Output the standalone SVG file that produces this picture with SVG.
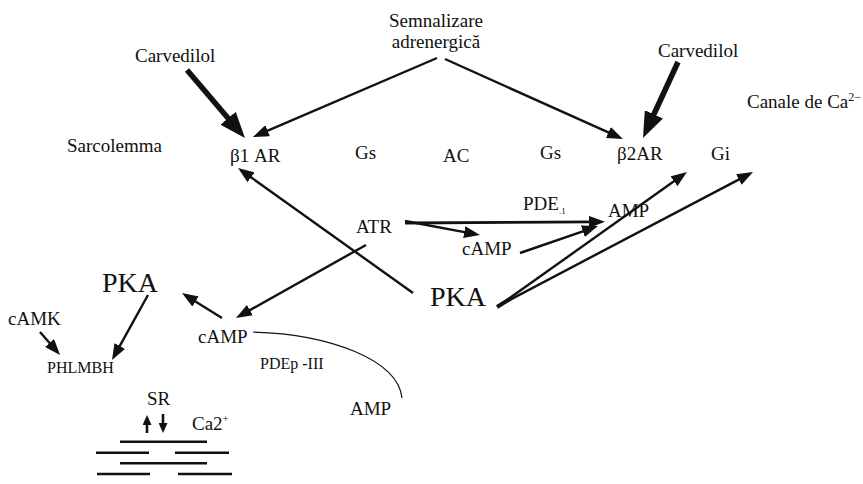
<svg xmlns="http://www.w3.org/2000/svg" width="863" height="484" viewBox="0 0 863 484">
<style>
text{font-family:"Liberation Serif","Times New Roman",serif;fill:#111;font-size:19px}
.big{font-size:28px}
.sm{font-size:16px}
.ln{stroke:#111;stroke-width:2.4;fill:none}
.thick{stroke:#111;stroke-width:5.5;fill:none}
.thin{stroke:#111;stroke-width:1.2;fill:none}
.mem{stroke:#111;stroke-width:2.6}
</style>
<defs>
<marker id="ah" viewBox="0 0 16 12" refX="3" refY="6" markerWidth="16" markerHeight="12" markerUnits="userSpaceOnUse" orient="auto"><path d="M0,0L16,6L0,12z" fill="#111"/></marker>
<marker id="ahb" viewBox="0 0 26 20" refX="4" refY="10" markerWidth="26" markerHeight="20" markerUnits="userSpaceOnUse" orient="auto"><path d="M0,0L26,10L0,20z" fill="#111"/></marker>
<marker id="ahs" viewBox="0 0 10 9" refX="2" refY="4.5" markerWidth="10" markerHeight="9" markerUnits="userSpaceOnUse" orient="auto"><path d="M0,0L10,4.5L0,9z" fill="#111"/></marker>
</defs>

<g id="connectors">
<line class="ln" x1="437" y1="58" x2="264.9" y2="131.9" marker-end="url(#ah)"/>
<line class="ln" x1="445" y1="59" x2="611.1" y2="133.7" marker-end="url(#ah)"/>
<line class="thick" x1="187" y1="70" x2="230.7" y2="121.3" marker-end="url(#ahb)"/>
<line class="thick" x1="678" y1="62" x2="652.2" y2="118" marker-end="url(#ahb)"/>
<line class="ln" x1="413" y1="293" x2="248.6" y2="175.6" marker-end="url(#ah)"/>
<line class="ln" x1="366" y1="245" x2="247.3" y2="311.6" marker-end="url(#ah)"/>
<line class="ln" x1="222" y1="318" x2="193" y2="299.9" marker-end="url(#ah)"/>
<line class="ln" x1="148" y1="295" x2="118.3" y2="348.6" marker-end="url(#ah)"/>
<line class="ln" x1="40" y1="332" x2="51.5" y2="345.2" marker-end="url(#ah)"/>
<line class="ln" x1="405" y1="221" x2="467.2" y2="232.6" marker-end="url(#ah)"/>
<line class="ln" x1="405" y1="223" x2="592" y2="221.9" style="stroke-width:2.8" marker-end="url(#ah)"/>
<line class="ln" x1="520" y1="253" x2="585.7" y2="230.3" marker-end="url(#ah)"/>
<line class="ln" x1="500" y1="305" x2="676.4" y2="179.5" marker-end="url(#ah)"/>
<line class="ln" x1="500" y1="305" x2="741.5" y2="178.1" marker-end="url(#ah)"/>
<line class="thick" x1="497" y1="307" x2="510" y2="299" style="stroke-width:4"/>
<path class="thin" d="M253,332 C330,334 398,360 402,398"/>
<line class="ln" x1="147" y1="433" x2="147" y2="423" style="stroke-width:2.6" marker-end="url(#ahs)"/>
<line class="ln" x1="163" y1="414" x2="163" y2="425" style="stroke-width:2.6" marker-end="url(#ahs)"/>
</g>

<g id="SR-membrane">
<line class="mem" x1="120" y1="441.7" x2="207" y2="441.7"/>
<line class="mem" x1="96" y1="452.7" x2="149" y2="452.7"/>
<line class="mem" x1="175" y1="452.7" x2="229" y2="452.7"/>
<line class="mem" x1="120" y1="463.3" x2="207" y2="463.3"/>
<line class="mem" x1="97" y1="474" x2="150" y2="474"/>
<line class="mem" x1="178" y1="474" x2="232" y2="474"/>
</g>

<g id="semnalizare"><text x="436" y="27" text-anchor="middle" font-size="18">Semnalizare</text><text x="436" y="48" text-anchor="middle" font-size="18">adrenergică</text></g>
<g id="carvedilol-1"><text x="135" y="62">Carvedilol</text></g>
<g id="carvedilol-2"><text x="658" y="57">Carvedilol</text></g>
<g id="canale"><text x="747" y="108">Canale de Ca<tspan font-size="12" dy="-7">2−</tspan></text></g>
<g id="sarcolemma"><text x="67" y="152">Sarcolemma</text></g>
<g id="b1ar"><text x="230" y="162">β1 AR</text></g>
<g id="gs1"><text x="355" y="159">Gs</text></g>
<g id="ac"><text x="443" y="162">AC</text></g>
<g id="gs2"><text x="540" y="159">Gs</text></g>
<g id="b2ar"><text x="617" y="160">β2AR</text></g>
<g id="gi"><text x="711" y="160">Gi</text></g>
<g id="pde1"><text x="523" y="210">PDE<tspan font-size="9" dy="4">.1</tspan></text></g>
<g id="amp-top"><text x="608" y="217">AMP</text></g>
<g id="atr"><text x="356" y="233">ATR</text></g>
<g id="camp-mid"><text x="462" y="255">cAMP</text></g>
<g id="pka-right"><text class="big" x="430" y="306">PKA</text></g>
<g id="pka-left"><text class="big" x="102" y="292">PKA</text></g>
<g id="camk"><text x="8" y="325">cAMK</text></g>
<g id="camp-left"><text x="198" y="343">cAMP</text></g>
<g id="phlmbh"><text class="sm" x="47" y="373">PHLMBH</text></g>
<g id="pdep"><text class="sm" x="260" y="369">PDEp -III</text></g>
<g id="amp-bottom"><text x="350" y="415">AMP</text></g>
<g id="sr"><text x="147" y="405" font-size="18">SR</text></g>
<g id="ca2"><text x="192" y="430">Ca2<tspan font-size="11" dy="-8">+</tspan></text></g>
</svg>
